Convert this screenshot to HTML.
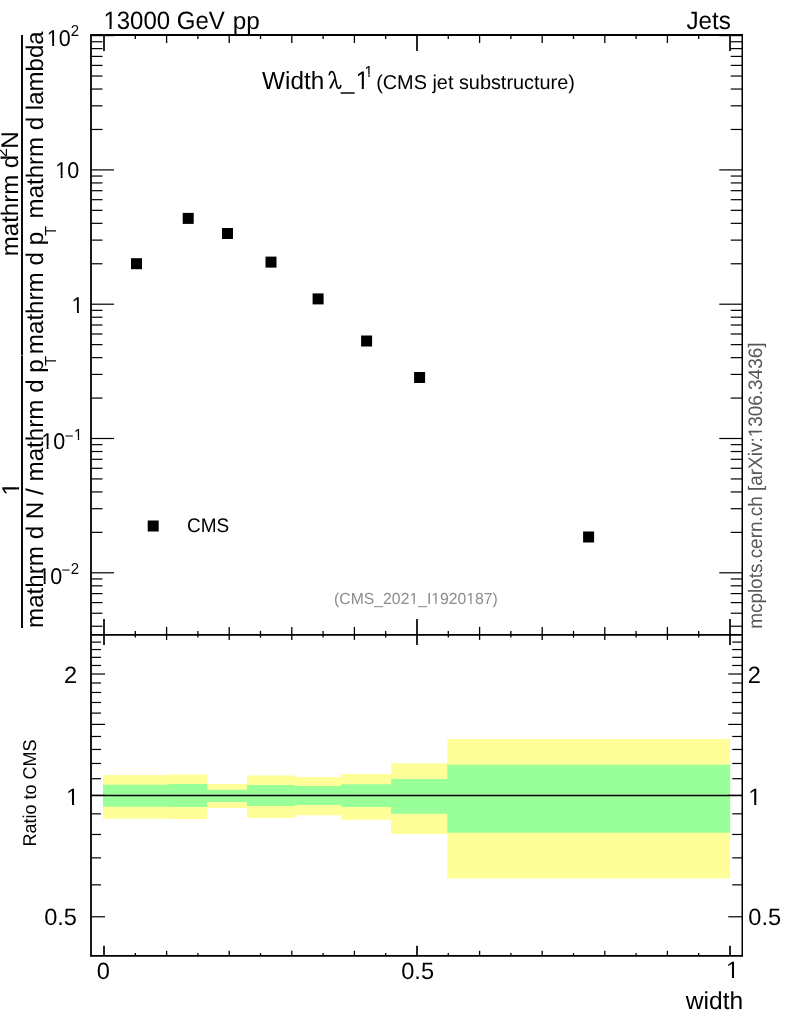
<!DOCTYPE html>
<html><head><meta charset="utf-8"><title>mcplots</title><style>
html,body{margin:0;padding:0;background:#fff;width:786px;height:1024px;overflow:hidden}
svg{display:block;font-family:"Liberation Sans", sans-serif;will-change:transform;text-rendering:geometricPrecision}
</style></head><body>
<svg width="786" height="1024" viewBox="0 0 786 1024">
<defs><clipPath id="c1"><path clip-rule="evenodd" d="M53.40,-18.70H274.83V53.30H53.40ZM104.63,26.51H109.44V30.80H104.63ZM111.56,26.51H116.18V30.80H111.56Z"/></clipPath><clipPath id="c2"><path clip-rule="evenodd" d="M305.65,41.00H419.00V113.00H305.65ZM356.88,86.21H361.69V90.50H356.88ZM363.81,86.21H368.43V90.50H363.81Z"/></clipPath><clipPath id="c3"><path clip-rule="evenodd" d="M314.62,46.60H422.96V91.60H314.62ZM365.16,74.48H368.39V78.10H365.16ZM369.71,74.48H372.83V78.10H369.71Z"/></clipPath><clipPath id="c4"><path clip-rule="evenodd" d="M284.12,572.50H547.86V619.75H284.12ZM410.00,601.82H413.37V605.50H410.00ZM414.76,601.82H418.00V605.50H414.76ZM431.90,601.82H435.26V605.50H431.90ZM436.65,601.82H439.89V605.50H436.65ZM466.94,601.82H470.30V605.50H466.94ZM471.69,601.82H474.93V605.50H471.69Z"/></clipPath><clipPath id="c5"><path clip-rule="evenodd" d="M-3.17,2.60H120.74V67.10H-3.17ZM47.86,42.99H52.23V47.10H47.86ZM54.13,42.99H58.33V47.10H54.13Z"/></clipPath><clipPath id="c6"><path clip-rule="evenodd" d="M5.33,134.80H129.24V199.30H5.33ZM56.36,175.19H60.73V179.30H56.36ZM62.63,175.19H66.83V179.30H62.63Z"/></clipPath><clipPath id="c7"><path clip-rule="evenodd" d="M21.59,270.00H133.55V334.50H21.59ZM72.63,310.39H77.00V314.50H72.63ZM78.90,310.39H83.10V314.50H78.90Z"/></clipPath><clipPath id="c8"><path clip-rule="evenodd" d="M-8.77,405.60H115.14V470.10H-8.77ZM42.26,445.99H46.63V450.10H42.26ZM48.53,445.99H52.73V450.10H48.53Z"/></clipPath><clipPath id="c9"><path clip-rule="evenodd" d="M24.10,409.60H132.44V454.60H24.10ZM74.64,437.48H77.87V441.10H74.64ZM79.20,437.48H82.31V441.10H79.20Z"/></clipPath><clipPath id="c10"><path clip-rule="evenodd" d="M-11.67,540.60H112.24V605.10H-11.67ZM39.36,580.99H43.73V585.10H39.36ZM45.63,580.99H49.83V585.10H45.63Z"/></clipPath><clipPath id="c11"><path clip-rule="evenodd" d="M16.08,757.50H129.20V828.30H16.08ZM67.28,801.94H72.01V806.20H67.28ZM74.10,801.94H78.65V806.20H74.10Z"/></clipPath><clipPath id="c12"><path clip-rule="evenodd" d="M698.28,757.70H811.40V828.50H698.28ZM749.48,802.14H754.21V806.40H749.48ZM756.30,802.14H760.85V806.40H756.30Z"/></clipPath><clipPath id="c13"><path clip-rule="evenodd" d="M676.02,930.80H789.15V1001.60H676.02ZM727.22,975.24H731.96V979.50H727.22ZM734.04,975.24H738.60V979.50H734.04Z"/></clipPath><clipPath id="c14"><path clip-rule="evenodd" d="M-678.86,723.88H-292.20V780.76H-678.86ZM-436.25,759.38H-432.32V763.30H-436.25ZM-430.65,759.38H-426.87V763.30H-430.65Z"/></clipPath><clipPath id="c15"><path clip-rule="evenodd" d="M-545.56,-29.70H-432.10V42.90H-545.56ZM-494.32,15.89H-489.47V20.20H-494.32ZM-487.34,15.89H-482.68V20.20H-487.34Z"/></clipPath></defs>
<rect x="0" y="0" width="786" height="1024" fill="#fff"/>
<path d="M103.00,775.00 L169.00,775.00 L169.00,774.40 L207.20,774.40 L207.20,784.10 L246.90,784.10 L246.90,775.60 L295.00,775.60 L295.00,777.00 L341.10,777.00 L341.10,774.10 L391.10,774.10 L391.10,763.30 L447.30,763.30 L447.30,739.10 L730.10,739.10 L730.10,878.60 L447.30,878.60 L447.30,833.90 L391.10,833.90 L391.10,819.80 L341.10,819.80 L341.10,815.30 L295.00,815.30 L295.00,818.00 L246.90,818.00 L246.90,808.00 L207.20,808.00 L207.20,818.90 L169.00,818.90 L169.00,818.80 L103.00,818.80Z" fill="#ffff99"/>
<path d="M103.00,784.80 L169.00,784.80 L169.00,784.10 L207.20,784.10 L207.20,789.70 L246.90,789.70 L246.90,785.10 L295.00,785.10 L295.00,786.00 L341.10,786.00 L341.10,784.30 L391.10,784.30 L391.10,779.10 L447.30,779.10 L447.30,764.70 L730.10,764.70 L730.10,832.70 L447.30,832.70 L447.30,813.80 L391.10,813.80 L391.10,806.90 L341.10,806.90 L341.10,805.00 L295.00,805.00 L295.00,805.90 L246.90,805.90 L246.90,801.90 L207.20,801.90 L207.20,806.90 L169.00,806.90 L169.00,806.80 L103.00,806.80Z" fill="#99ff99"/>
<line x1="91.00" y1="795.50" x2="742.25" y2="795.50" stroke="#000" stroke-width="1.4"/>
<line x1="91.00" y1="35.00" x2="742.25" y2="35.00" stroke="#000" stroke-width="2.0"/>
<line x1="91.00" y1="634.90" x2="742.25" y2="634.90" stroke="#000" stroke-width="1.9"/>
<line x1="91.00" y1="955.80" x2="742.25" y2="955.80" stroke="#000" stroke-width="1.8"/>
<line x1="91.00" y1="34.00" x2="91.00" y2="956.70" stroke="#000" stroke-width="1.8"/>
<line x1="742.25" y1="34.00" x2="742.25" y2="956.70" stroke="#000" stroke-width="1.5"/>
<line x1="91.00" y1="626.24" x2="102.50" y2="626.24" stroke="#000" stroke-width="1.2"/>
<line x1="742.25" y1="626.24" x2="730.75" y2="626.24" stroke="#000" stroke-width="1.2"/>
<line x1="91.00" y1="613.23" x2="102.50" y2="613.23" stroke="#000" stroke-width="1.2"/>
<line x1="742.25" y1="613.23" x2="730.75" y2="613.23" stroke="#000" stroke-width="1.2"/>
<line x1="91.00" y1="602.59" x2="102.50" y2="602.59" stroke="#000" stroke-width="1.2"/>
<line x1="742.25" y1="602.59" x2="730.75" y2="602.59" stroke="#000" stroke-width="1.2"/>
<line x1="91.00" y1="593.60" x2="102.50" y2="593.60" stroke="#000" stroke-width="1.2"/>
<line x1="742.25" y1="593.60" x2="730.75" y2="593.60" stroke="#000" stroke-width="1.2"/>
<line x1="91.00" y1="585.82" x2="102.50" y2="585.82" stroke="#000" stroke-width="1.2"/>
<line x1="742.25" y1="585.82" x2="730.75" y2="585.82" stroke="#000" stroke-width="1.2"/>
<line x1="91.00" y1="578.95" x2="102.50" y2="578.95" stroke="#000" stroke-width="1.2"/>
<line x1="742.25" y1="578.95" x2="730.75" y2="578.95" stroke="#000" stroke-width="1.2"/>
<line x1="91.00" y1="572.80" x2="114.00" y2="572.80" stroke="#000" stroke-width="1.2"/>
<line x1="742.25" y1="572.80" x2="719.25" y2="572.80" stroke="#000" stroke-width="1.2"/>
<line x1="91.00" y1="532.37" x2="102.50" y2="532.37" stroke="#000" stroke-width="1.2"/>
<line x1="742.25" y1="532.37" x2="730.75" y2="532.37" stroke="#000" stroke-width="1.2"/>
<line x1="91.00" y1="508.72" x2="102.50" y2="508.72" stroke="#000" stroke-width="1.2"/>
<line x1="742.25" y1="508.72" x2="730.75" y2="508.72" stroke="#000" stroke-width="1.2"/>
<line x1="91.00" y1="491.94" x2="102.50" y2="491.94" stroke="#000" stroke-width="1.2"/>
<line x1="742.25" y1="491.94" x2="730.75" y2="491.94" stroke="#000" stroke-width="1.2"/>
<line x1="91.00" y1="478.93" x2="102.50" y2="478.93" stroke="#000" stroke-width="1.2"/>
<line x1="742.25" y1="478.93" x2="730.75" y2="478.93" stroke="#000" stroke-width="1.2"/>
<line x1="91.00" y1="468.29" x2="102.50" y2="468.29" stroke="#000" stroke-width="1.2"/>
<line x1="742.25" y1="468.29" x2="730.75" y2="468.29" stroke="#000" stroke-width="1.2"/>
<line x1="91.00" y1="459.30" x2="102.50" y2="459.30" stroke="#000" stroke-width="1.2"/>
<line x1="742.25" y1="459.30" x2="730.75" y2="459.30" stroke="#000" stroke-width="1.2"/>
<line x1="91.00" y1="451.52" x2="102.50" y2="451.52" stroke="#000" stroke-width="1.2"/>
<line x1="742.25" y1="451.52" x2="730.75" y2="451.52" stroke="#000" stroke-width="1.2"/>
<line x1="91.00" y1="444.65" x2="102.50" y2="444.65" stroke="#000" stroke-width="1.2"/>
<line x1="742.25" y1="444.65" x2="730.75" y2="444.65" stroke="#000" stroke-width="1.2"/>
<line x1="91.00" y1="438.50" x2="114.00" y2="438.50" stroke="#000" stroke-width="1.2"/>
<line x1="742.25" y1="438.50" x2="719.25" y2="438.50" stroke="#000" stroke-width="1.2"/>
<line x1="91.00" y1="398.07" x2="102.50" y2="398.07" stroke="#000" stroke-width="1.2"/>
<line x1="742.25" y1="398.07" x2="730.75" y2="398.07" stroke="#000" stroke-width="1.2"/>
<line x1="91.00" y1="374.42" x2="102.50" y2="374.42" stroke="#000" stroke-width="1.2"/>
<line x1="742.25" y1="374.42" x2="730.75" y2="374.42" stroke="#000" stroke-width="1.2"/>
<line x1="91.00" y1="357.64" x2="102.50" y2="357.64" stroke="#000" stroke-width="1.2"/>
<line x1="742.25" y1="357.64" x2="730.75" y2="357.64" stroke="#000" stroke-width="1.2"/>
<line x1="91.00" y1="344.63" x2="102.50" y2="344.63" stroke="#000" stroke-width="1.2"/>
<line x1="742.25" y1="344.63" x2="730.75" y2="344.63" stroke="#000" stroke-width="1.2"/>
<line x1="91.00" y1="333.99" x2="102.50" y2="333.99" stroke="#000" stroke-width="1.2"/>
<line x1="742.25" y1="333.99" x2="730.75" y2="333.99" stroke="#000" stroke-width="1.2"/>
<line x1="91.00" y1="325.00" x2="102.50" y2="325.00" stroke="#000" stroke-width="1.2"/>
<line x1="742.25" y1="325.00" x2="730.75" y2="325.00" stroke="#000" stroke-width="1.2"/>
<line x1="91.00" y1="317.22" x2="102.50" y2="317.22" stroke="#000" stroke-width="1.2"/>
<line x1="742.25" y1="317.22" x2="730.75" y2="317.22" stroke="#000" stroke-width="1.2"/>
<line x1="91.00" y1="310.35" x2="102.50" y2="310.35" stroke="#000" stroke-width="1.2"/>
<line x1="742.25" y1="310.35" x2="730.75" y2="310.35" stroke="#000" stroke-width="1.2"/>
<line x1="91.00" y1="304.20" x2="114.00" y2="304.20" stroke="#000" stroke-width="1.2"/>
<line x1="742.25" y1="304.20" x2="719.25" y2="304.20" stroke="#000" stroke-width="1.2"/>
<line x1="91.00" y1="263.77" x2="102.50" y2="263.77" stroke="#000" stroke-width="1.2"/>
<line x1="742.25" y1="263.77" x2="730.75" y2="263.77" stroke="#000" stroke-width="1.2"/>
<line x1="91.00" y1="240.12" x2="102.50" y2="240.12" stroke="#000" stroke-width="1.2"/>
<line x1="742.25" y1="240.12" x2="730.75" y2="240.12" stroke="#000" stroke-width="1.2"/>
<line x1="91.00" y1="223.34" x2="102.50" y2="223.34" stroke="#000" stroke-width="1.2"/>
<line x1="742.25" y1="223.34" x2="730.75" y2="223.34" stroke="#000" stroke-width="1.2"/>
<line x1="91.00" y1="210.33" x2="102.50" y2="210.33" stroke="#000" stroke-width="1.2"/>
<line x1="742.25" y1="210.33" x2="730.75" y2="210.33" stroke="#000" stroke-width="1.2"/>
<line x1="91.00" y1="199.69" x2="102.50" y2="199.69" stroke="#000" stroke-width="1.2"/>
<line x1="742.25" y1="199.69" x2="730.75" y2="199.69" stroke="#000" stroke-width="1.2"/>
<line x1="91.00" y1="190.70" x2="102.50" y2="190.70" stroke="#000" stroke-width="1.2"/>
<line x1="742.25" y1="190.70" x2="730.75" y2="190.70" stroke="#000" stroke-width="1.2"/>
<line x1="91.00" y1="182.92" x2="102.50" y2="182.92" stroke="#000" stroke-width="1.2"/>
<line x1="742.25" y1="182.92" x2="730.75" y2="182.92" stroke="#000" stroke-width="1.2"/>
<line x1="91.00" y1="176.05" x2="102.50" y2="176.05" stroke="#000" stroke-width="1.2"/>
<line x1="742.25" y1="176.05" x2="730.75" y2="176.05" stroke="#000" stroke-width="1.2"/>
<line x1="91.00" y1="169.90" x2="114.00" y2="169.90" stroke="#000" stroke-width="1.2"/>
<line x1="742.25" y1="169.90" x2="719.25" y2="169.90" stroke="#000" stroke-width="1.2"/>
<line x1="91.00" y1="129.47" x2="102.50" y2="129.47" stroke="#000" stroke-width="1.2"/>
<line x1="742.25" y1="129.47" x2="730.75" y2="129.47" stroke="#000" stroke-width="1.2"/>
<line x1="91.00" y1="105.82" x2="102.50" y2="105.82" stroke="#000" stroke-width="1.2"/>
<line x1="742.25" y1="105.82" x2="730.75" y2="105.82" stroke="#000" stroke-width="1.2"/>
<line x1="91.00" y1="89.04" x2="102.50" y2="89.04" stroke="#000" stroke-width="1.2"/>
<line x1="742.25" y1="89.04" x2="730.75" y2="89.04" stroke="#000" stroke-width="1.2"/>
<line x1="91.00" y1="76.03" x2="102.50" y2="76.03" stroke="#000" stroke-width="1.2"/>
<line x1="742.25" y1="76.03" x2="730.75" y2="76.03" stroke="#000" stroke-width="1.2"/>
<line x1="91.00" y1="65.39" x2="102.50" y2="65.39" stroke="#000" stroke-width="1.2"/>
<line x1="742.25" y1="65.39" x2="730.75" y2="65.39" stroke="#000" stroke-width="1.2"/>
<line x1="91.00" y1="56.40" x2="102.50" y2="56.40" stroke="#000" stroke-width="1.2"/>
<line x1="742.25" y1="56.40" x2="730.75" y2="56.40" stroke="#000" stroke-width="1.2"/>
<line x1="91.00" y1="48.62" x2="102.50" y2="48.62" stroke="#000" stroke-width="1.2"/>
<line x1="742.25" y1="48.62" x2="730.75" y2="48.62" stroke="#000" stroke-width="1.2"/>
<line x1="91.00" y1="41.75" x2="102.50" y2="41.75" stroke="#000" stroke-width="1.2"/>
<line x1="742.25" y1="41.75" x2="730.75" y2="41.75" stroke="#000" stroke-width="1.2"/>
<line x1="91.00" y1="35.60" x2="114.00" y2="35.60" stroke="#000" stroke-width="1.2"/>
<line x1="742.25" y1="35.60" x2="719.25" y2="35.60" stroke="#000" stroke-width="1.2"/>
<line x1="91.00" y1="916.78" x2="105.00" y2="916.78" stroke="#000" stroke-width="1.2"/>
<line x1="742.25" y1="916.78" x2="728.25" y2="916.78" stroke="#000" stroke-width="1.2"/>
<line x1="91.00" y1="884.85" x2="101.00" y2="884.85" stroke="#000" stroke-width="1.2"/>
<line x1="742.25" y1="884.85" x2="732.25" y2="884.85" stroke="#000" stroke-width="1.2"/>
<line x1="91.00" y1="857.86" x2="101.00" y2="857.86" stroke="#000" stroke-width="1.2"/>
<line x1="742.25" y1="857.86" x2="732.25" y2="857.86" stroke="#000" stroke-width="1.2"/>
<line x1="91.00" y1="834.47" x2="101.00" y2="834.47" stroke="#000" stroke-width="1.2"/>
<line x1="742.25" y1="834.47" x2="732.25" y2="834.47" stroke="#000" stroke-width="1.2"/>
<line x1="91.00" y1="813.85" x2="101.00" y2="813.85" stroke="#000" stroke-width="1.2"/>
<line x1="742.25" y1="813.85" x2="732.25" y2="813.85" stroke="#000" stroke-width="1.2"/>
<line x1="91.00" y1="795.40" x2="105.00" y2="795.40" stroke="#000" stroke-width="1.2"/>
<line x1="742.25" y1="795.40" x2="728.25" y2="795.40" stroke="#000" stroke-width="1.2"/>
<line x1="91.00" y1="778.71" x2="101.00" y2="778.71" stroke="#000" stroke-width="1.2"/>
<line x1="742.25" y1="778.71" x2="732.25" y2="778.71" stroke="#000" stroke-width="1.2"/>
<line x1="91.00" y1="763.47" x2="101.00" y2="763.47" stroke="#000" stroke-width="1.2"/>
<line x1="742.25" y1="763.47" x2="732.25" y2="763.47" stroke="#000" stroke-width="1.2"/>
<line x1="91.00" y1="749.46" x2="101.00" y2="749.46" stroke="#000" stroke-width="1.2"/>
<line x1="742.25" y1="749.46" x2="732.25" y2="749.46" stroke="#000" stroke-width="1.2"/>
<line x1="91.00" y1="736.48" x2="101.00" y2="736.48" stroke="#000" stroke-width="1.2"/>
<line x1="742.25" y1="736.48" x2="732.25" y2="736.48" stroke="#000" stroke-width="1.2"/>
<line x1="91.00" y1="724.40" x2="105.00" y2="724.40" stroke="#000" stroke-width="1.2"/>
<line x1="742.25" y1="724.40" x2="728.25" y2="724.40" stroke="#000" stroke-width="1.2"/>
<line x1="91.00" y1="713.10" x2="101.00" y2="713.10" stroke="#000" stroke-width="1.2"/>
<line x1="742.25" y1="713.10" x2="732.25" y2="713.10" stroke="#000" stroke-width="1.2"/>
<line x1="91.00" y1="702.48" x2="101.00" y2="702.48" stroke="#000" stroke-width="1.2"/>
<line x1="742.25" y1="702.48" x2="732.25" y2="702.48" stroke="#000" stroke-width="1.2"/>
<line x1="91.00" y1="692.47" x2="101.00" y2="692.47" stroke="#000" stroke-width="1.2"/>
<line x1="742.25" y1="692.47" x2="732.25" y2="692.47" stroke="#000" stroke-width="1.2"/>
<line x1="91.00" y1="683.01" x2="101.00" y2="683.01" stroke="#000" stroke-width="1.2"/>
<line x1="742.25" y1="683.01" x2="732.25" y2="683.01" stroke="#000" stroke-width="1.2"/>
<line x1="91.00" y1="674.02" x2="105.00" y2="674.02" stroke="#000" stroke-width="1.2"/>
<line x1="742.25" y1="674.02" x2="728.25" y2="674.02" stroke="#000" stroke-width="1.2"/>
<line x1="91.00" y1="665.48" x2="101.00" y2="665.48" stroke="#000" stroke-width="1.2"/>
<line x1="742.25" y1="665.48" x2="732.25" y2="665.48" stroke="#000" stroke-width="1.2"/>
<line x1="91.00" y1="657.34" x2="101.00" y2="657.34" stroke="#000" stroke-width="1.2"/>
<line x1="742.25" y1="657.34" x2="732.25" y2="657.34" stroke="#000" stroke-width="1.2"/>
<line x1="91.00" y1="649.55" x2="101.00" y2="649.55" stroke="#000" stroke-width="1.2"/>
<line x1="742.25" y1="649.55" x2="732.25" y2="649.55" stroke="#000" stroke-width="1.2"/>
<line x1="91.00" y1="642.10" x2="101.00" y2="642.10" stroke="#000" stroke-width="1.2"/>
<line x1="742.25" y1="642.10" x2="732.25" y2="642.10" stroke="#000" stroke-width="1.2"/>
<line x1="104.00" y1="35.00" x2="104.00" y2="51.00" stroke="#000" stroke-width="1.7"/>
<line x1="104.00" y1="634.90" x2="104.00" y2="618.90" stroke="#000" stroke-width="1.7"/>
<line x1="104.00" y1="634.90" x2="104.00" y2="644.90" stroke="#000" stroke-width="1.7"/>
<line x1="104.00" y1="955.80" x2="104.00" y2="945.80" stroke="#000" stroke-width="1.7"/>
<line x1="135.30" y1="35.00" x2="135.30" y2="39.00" stroke="#000" stroke-width="1.3"/>
<line x1="135.30" y1="634.90" x2="135.30" y2="630.90" stroke="#000" stroke-width="1.3"/>
<line x1="135.30" y1="634.90" x2="135.30" y2="637.60" stroke="#000" stroke-width="1.3"/>
<line x1="135.30" y1="955.80" x2="135.30" y2="953.10" stroke="#000" stroke-width="1.3"/>
<line x1="166.60" y1="35.00" x2="166.60" y2="43.00" stroke="#000" stroke-width="1.3"/>
<line x1="166.60" y1="634.90" x2="166.60" y2="626.90" stroke="#000" stroke-width="1.3"/>
<line x1="166.60" y1="634.90" x2="166.60" y2="639.90" stroke="#000" stroke-width="1.3"/>
<line x1="166.60" y1="955.80" x2="166.60" y2="950.80" stroke="#000" stroke-width="1.3"/>
<line x1="197.90" y1="35.00" x2="197.90" y2="39.00" stroke="#000" stroke-width="1.3"/>
<line x1="197.90" y1="634.90" x2="197.90" y2="630.90" stroke="#000" stroke-width="1.3"/>
<line x1="197.90" y1="634.90" x2="197.90" y2="637.60" stroke="#000" stroke-width="1.3"/>
<line x1="197.90" y1="955.80" x2="197.90" y2="953.10" stroke="#000" stroke-width="1.3"/>
<line x1="229.20" y1="35.00" x2="229.20" y2="43.00" stroke="#000" stroke-width="1.3"/>
<line x1="229.20" y1="634.90" x2="229.20" y2="626.90" stroke="#000" stroke-width="1.3"/>
<line x1="229.20" y1="634.90" x2="229.20" y2="639.90" stroke="#000" stroke-width="1.3"/>
<line x1="229.20" y1="955.80" x2="229.20" y2="950.80" stroke="#000" stroke-width="1.3"/>
<line x1="260.50" y1="35.00" x2="260.50" y2="39.00" stroke="#000" stroke-width="1.3"/>
<line x1="260.50" y1="634.90" x2="260.50" y2="630.90" stroke="#000" stroke-width="1.3"/>
<line x1="260.50" y1="634.90" x2="260.50" y2="637.60" stroke="#000" stroke-width="1.3"/>
<line x1="260.50" y1="955.80" x2="260.50" y2="953.10" stroke="#000" stroke-width="1.3"/>
<line x1="291.80" y1="35.00" x2="291.80" y2="43.00" stroke="#000" stroke-width="1.3"/>
<line x1="291.80" y1="634.90" x2="291.80" y2="626.90" stroke="#000" stroke-width="1.3"/>
<line x1="291.80" y1="634.90" x2="291.80" y2="639.90" stroke="#000" stroke-width="1.3"/>
<line x1="291.80" y1="955.80" x2="291.80" y2="950.80" stroke="#000" stroke-width="1.3"/>
<line x1="323.10" y1="35.00" x2="323.10" y2="39.00" stroke="#000" stroke-width="1.3"/>
<line x1="323.10" y1="634.90" x2="323.10" y2="630.90" stroke="#000" stroke-width="1.3"/>
<line x1="323.10" y1="634.90" x2="323.10" y2="637.60" stroke="#000" stroke-width="1.3"/>
<line x1="323.10" y1="955.80" x2="323.10" y2="953.10" stroke="#000" stroke-width="1.3"/>
<line x1="354.40" y1="35.00" x2="354.40" y2="43.00" stroke="#000" stroke-width="1.3"/>
<line x1="354.40" y1="634.90" x2="354.40" y2="626.90" stroke="#000" stroke-width="1.3"/>
<line x1="354.40" y1="634.90" x2="354.40" y2="639.90" stroke="#000" stroke-width="1.3"/>
<line x1="354.40" y1="955.80" x2="354.40" y2="950.80" stroke="#000" stroke-width="1.3"/>
<line x1="385.70" y1="35.00" x2="385.70" y2="39.00" stroke="#000" stroke-width="1.3"/>
<line x1="385.70" y1="634.90" x2="385.70" y2="630.90" stroke="#000" stroke-width="1.3"/>
<line x1="385.70" y1="634.90" x2="385.70" y2="637.60" stroke="#000" stroke-width="1.3"/>
<line x1="385.70" y1="955.80" x2="385.70" y2="953.10" stroke="#000" stroke-width="1.3"/>
<line x1="417.00" y1="35.00" x2="417.00" y2="51.00" stroke="#000" stroke-width="1.7"/>
<line x1="417.00" y1="634.90" x2="417.00" y2="618.90" stroke="#000" stroke-width="1.7"/>
<line x1="417.00" y1="634.90" x2="417.00" y2="644.90" stroke="#000" stroke-width="1.7"/>
<line x1="417.00" y1="955.80" x2="417.00" y2="945.80" stroke="#000" stroke-width="1.7"/>
<line x1="448.30" y1="35.00" x2="448.30" y2="39.00" stroke="#000" stroke-width="1.3"/>
<line x1="448.30" y1="634.90" x2="448.30" y2="630.90" stroke="#000" stroke-width="1.3"/>
<line x1="448.30" y1="634.90" x2="448.30" y2="637.60" stroke="#000" stroke-width="1.3"/>
<line x1="448.30" y1="955.80" x2="448.30" y2="953.10" stroke="#000" stroke-width="1.3"/>
<line x1="479.60" y1="35.00" x2="479.60" y2="43.00" stroke="#000" stroke-width="1.3"/>
<line x1="479.60" y1="634.90" x2="479.60" y2="626.90" stroke="#000" stroke-width="1.3"/>
<line x1="479.60" y1="634.90" x2="479.60" y2="639.90" stroke="#000" stroke-width="1.3"/>
<line x1="479.60" y1="955.80" x2="479.60" y2="950.80" stroke="#000" stroke-width="1.3"/>
<line x1="510.90" y1="35.00" x2="510.90" y2="39.00" stroke="#000" stroke-width="1.3"/>
<line x1="510.90" y1="634.90" x2="510.90" y2="630.90" stroke="#000" stroke-width="1.3"/>
<line x1="510.90" y1="634.90" x2="510.90" y2="637.60" stroke="#000" stroke-width="1.3"/>
<line x1="510.90" y1="955.80" x2="510.90" y2="953.10" stroke="#000" stroke-width="1.3"/>
<line x1="542.20" y1="35.00" x2="542.20" y2="43.00" stroke="#000" stroke-width="1.3"/>
<line x1="542.20" y1="634.90" x2="542.20" y2="626.90" stroke="#000" stroke-width="1.3"/>
<line x1="542.20" y1="634.90" x2="542.20" y2="639.90" stroke="#000" stroke-width="1.3"/>
<line x1="542.20" y1="955.80" x2="542.20" y2="950.80" stroke="#000" stroke-width="1.3"/>
<line x1="573.50" y1="35.00" x2="573.50" y2="39.00" stroke="#000" stroke-width="1.3"/>
<line x1="573.50" y1="634.90" x2="573.50" y2="630.90" stroke="#000" stroke-width="1.3"/>
<line x1="573.50" y1="634.90" x2="573.50" y2="637.60" stroke="#000" stroke-width="1.3"/>
<line x1="573.50" y1="955.80" x2="573.50" y2="953.10" stroke="#000" stroke-width="1.3"/>
<line x1="604.80" y1="35.00" x2="604.80" y2="43.00" stroke="#000" stroke-width="1.3"/>
<line x1="604.80" y1="634.90" x2="604.80" y2="626.90" stroke="#000" stroke-width="1.3"/>
<line x1="604.80" y1="634.90" x2="604.80" y2="639.90" stroke="#000" stroke-width="1.3"/>
<line x1="604.80" y1="955.80" x2="604.80" y2="950.80" stroke="#000" stroke-width="1.3"/>
<line x1="636.10" y1="35.00" x2="636.10" y2="39.00" stroke="#000" stroke-width="1.3"/>
<line x1="636.10" y1="634.90" x2="636.10" y2="630.90" stroke="#000" stroke-width="1.3"/>
<line x1="636.10" y1="634.90" x2="636.10" y2="637.60" stroke="#000" stroke-width="1.3"/>
<line x1="636.10" y1="955.80" x2="636.10" y2="953.10" stroke="#000" stroke-width="1.3"/>
<line x1="667.40" y1="35.00" x2="667.40" y2="43.00" stroke="#000" stroke-width="1.3"/>
<line x1="667.40" y1="634.90" x2="667.40" y2="626.90" stroke="#000" stroke-width="1.3"/>
<line x1="667.40" y1="634.90" x2="667.40" y2="639.90" stroke="#000" stroke-width="1.3"/>
<line x1="667.40" y1="955.80" x2="667.40" y2="950.80" stroke="#000" stroke-width="1.3"/>
<line x1="698.70" y1="35.00" x2="698.70" y2="39.00" stroke="#000" stroke-width="1.3"/>
<line x1="698.70" y1="634.90" x2="698.70" y2="630.90" stroke="#000" stroke-width="1.3"/>
<line x1="698.70" y1="634.90" x2="698.70" y2="637.60" stroke="#000" stroke-width="1.3"/>
<line x1="698.70" y1="955.80" x2="698.70" y2="953.10" stroke="#000" stroke-width="1.3"/>
<line x1="730.00" y1="35.00" x2="730.00" y2="51.00" stroke="#000" stroke-width="1.7"/>
<line x1="730.00" y1="634.90" x2="730.00" y2="618.90" stroke="#000" stroke-width="1.7"/>
<line x1="730.00" y1="634.90" x2="730.00" y2="644.90" stroke="#000" stroke-width="1.7"/>
<line x1="730.00" y1="955.80" x2="730.00" y2="945.80" stroke="#000" stroke-width="1.7"/>
<rect x="131.00" y="258.20" width="11.00" height="11.00" fill="#000"/>
<rect x="182.70" y="212.90" width="11.00" height="11.00" fill="#000"/>
<rect x="222.00" y="228.00" width="11.00" height="11.00" fill="#000"/>
<rect x="265.50" y="256.60" width="11.00" height="11.00" fill="#000"/>
<rect x="312.60" y="293.40" width="11.00" height="11.00" fill="#000"/>
<rect x="361.10" y="335.50" width="11.00" height="11.00" fill="#000"/>
<rect x="414.10" y="372.00" width="11.00" height="11.00" fill="#000"/>
<rect x="583.10" y="531.50" width="11.00" height="11.00" fill="#000"/>
<rect x="147.70" y="520.50" width="11.00" height="11.00" fill="#000"/>
<g transform="translate(0,29.30) scale(1,1.045) translate(0,-29.30)"><text x="103.40" y="29.30" font-size="24.0" fill="#000" clip-path="url(#c1)">13000 GeV</text></g>
<text x="232.84" y="29.30" font-size="24.25" fill="#000">pp</text>
<g transform="translate(0,29.20) scale(1,1.035) translate(0,-29.20)"><text x="686.40" y="29.20" font-size="24.25" fill="#000">Jets</text></g>
<g transform="translate(0,88.80) scale(1,1.02) translate(0,-88.80)"><text x="262.06" y="88.80" font-size="24.3" fill="#000">Width</text></g>
<path d="M329.3,74.7 C329.7,72.6 330.9,71.5 332.0,71.6 C333.5,71.8 334.2,73.6 334.8,76.4 L336.3,83.8 C336.8,86.8 337.7,88.3 338.9,88.3 C339.9,88.3 340.5,87.2 340.8,85.7" fill="none" stroke="#000" stroke-width="1.65" stroke-linecap="round"/>
<path d="M334.3,78.2 L335.3,79.6 L331.2,88.6 L329.0,88.6 Z" fill="#000"/>
<text x="341.02" y="88.50" font-size="24" fill="#000">_</text>
<g transform="translate(0,89.00) scale(1,1.06) translate(0,-89.00)"><text x="355.65" y="89.00" font-size="24" fill="#000" clip-path="url(#c2)">1</text></g>
<g transform="translate(0,76.60) scale(1,1.06) translate(0,-76.60)"><text x="364.62" y="76.60" font-size="15" fill="#000" clip-path="url(#c3)">1</text></g>
<g transform="translate(0,89.00) scale(1,1.006) translate(0,-89.00)"><text x="376.17" y="89.00" font-size="19.88" fill="#000">(CMS jet substructure)</text></g>
<g transform="translate(0,532.20) scale(1,1.035) translate(0,-532.20)"><text x="187.04" y="532.20" font-size="19.0" fill="#000">CMS</text></g>
<g transform="translate(0,604.00) scale(1,1.02) translate(0,-604.00)"><text x="334.12" y="604.00" font-size="15.75" fill="#8c8c8c" clip-path="url(#c4)">(CMS_2021_I1920187)</text></g>
<g transform="translate(0,45.60) scale(1,1.06) translate(0,-45.60)"><text x="46.83" y="45.60" font-size="21.5" fill="#000" clip-path="url(#c5)">10</text></g>
<g transform="translate(0,35.60) scale(1,1.06) translate(0,-35.60)"><text x="70.81" y="35.60" font-size="15" fill="#000">2</text></g>
<g transform="translate(0,177.80) scale(1,1.06) translate(0,-177.80)"><text x="55.33" y="177.80" font-size="21.5" fill="#000" clip-path="url(#c6)">10</text></g>
<g transform="translate(0,313.00) scale(1,1.06) translate(0,-313.00)"><text x="71.59" y="313.00" font-size="21.5" fill="#000" clip-path="url(#c7)">1</text></g>
<g transform="translate(0,448.60) scale(1,1.06) translate(0,-448.60)"><text x="41.23" y="448.60" font-size="21.5" fill="#000" clip-path="url(#c8)">10</text></g>
<text x="64.86" y="440.80" font-size="15" fill="#000">−</text>
<g transform="translate(0,439.60) scale(1,1.06) translate(0,-439.60)"><text x="74.10" y="439.60" font-size="15" fill="#000" clip-path="url(#c9)">1</text></g>
<g transform="translate(0,583.60) scale(1,1.06) translate(0,-583.60)"><text x="38.33" y="583.60" font-size="21.5" fill="#000" clip-path="url(#c10)">10</text></g>
<text x="61.56" y="574.90" font-size="15" fill="#000">−</text>
<g transform="translate(0,573.70) scale(1,1.06) translate(0,-573.70)"><text x="70.81" y="573.70" font-size="15" fill="#000">2</text></g>
<text x="63.96" y="682.80" font-size="23.6" fill="#000">2</text>
<text x="747.71" y="683.00" font-size="23.6" fill="#000">2</text>
<text x="66.08" y="804.70" font-size="23.6" fill="#000" clip-path="url(#c11)">1</text>
<text x="748.28" y="804.90" font-size="23.6" fill="#000" clip-path="url(#c12)">1</text>
<text x="44.18" y="925.20" font-size="23.6" fill="#000">0.5</text>
<text x="748.28" y="924.80" font-size="23.6" fill="#000">0.5</text>
<text x="96.74" y="978.70" font-size="23.6" fill="#000">0</text>
<text x="401.23" y="978.60" font-size="23.6" fill="#000">0.5</text>
<text x="726.02" y="978.00" font-size="23.6" fill="#000" clip-path="url(#c13)">1</text>
<text x="685.87" y="1008.80" font-size="24.6" fill="#000">width</text>
<g transform="rotate(-90) translate(0,35.80) scale(1,1.03) translate(0,-35.80)"><text x="-846.58" y="35.80" font-size="18.0" fill="#000">Ratio to CMS</text></g>
<g transform="rotate(-90) translate(0,761.80) scale(1,1.03) translate(0,-761.80)"><text x="-628.86" y="761.80" font-size="18.96" fill="#575757" clip-path="url(#c14)">mcplots.cern.ch [arXiv:1306.3436]</text></g>
<line x1="22.00" y1="356.00" x2="22.00" y2="628.10" stroke="#000" stroke-width="1.9"/>
<line x1="22.00" y1="34.90" x2="22.00" y2="355.60" stroke="#000" stroke-width="1.9"/>
<g transform="rotate(-90)"><text x="-495.56" y="18.70" font-size="24.2" fill="#000" clip-path="url(#c15)">1</text></g>
<g transform="rotate(-90)"><text x="-628.01" y="43.00" font-size="24.2" fill="#000">mathrm d N / mathrm d p</text></g>
<g transform="rotate(-90)"><text x="-365.86" y="55.70" font-size="16" fill="#000">T</text></g>
<g transform="rotate(-90)"><text x="-256.19" y="18.10" font-size="24.0" fill="#000">mathrm d</text></g>
<g transform="rotate(-90)"><text x="-157.00" y="6.60" font-size="16" fill="#000">2</text></g>
<g transform="rotate(-90)"><text x="-148.69" y="18.10" font-size="24.2" fill="#000">N</text></g>
<g transform="rotate(-90)"><text x="-354.21" y="43.40" font-size="24.2" fill="#000">mathrm d p</text></g>
<g transform="rotate(-90)"><text x="-235.86" y="56.00" font-size="16" fill="#000">T</text></g>
<g transform="rotate(-90)"><text x="-218.40" y="43.40" font-size="24.05" fill="#000">mathrm d lambda</text></g>
</svg>
</body></html>
